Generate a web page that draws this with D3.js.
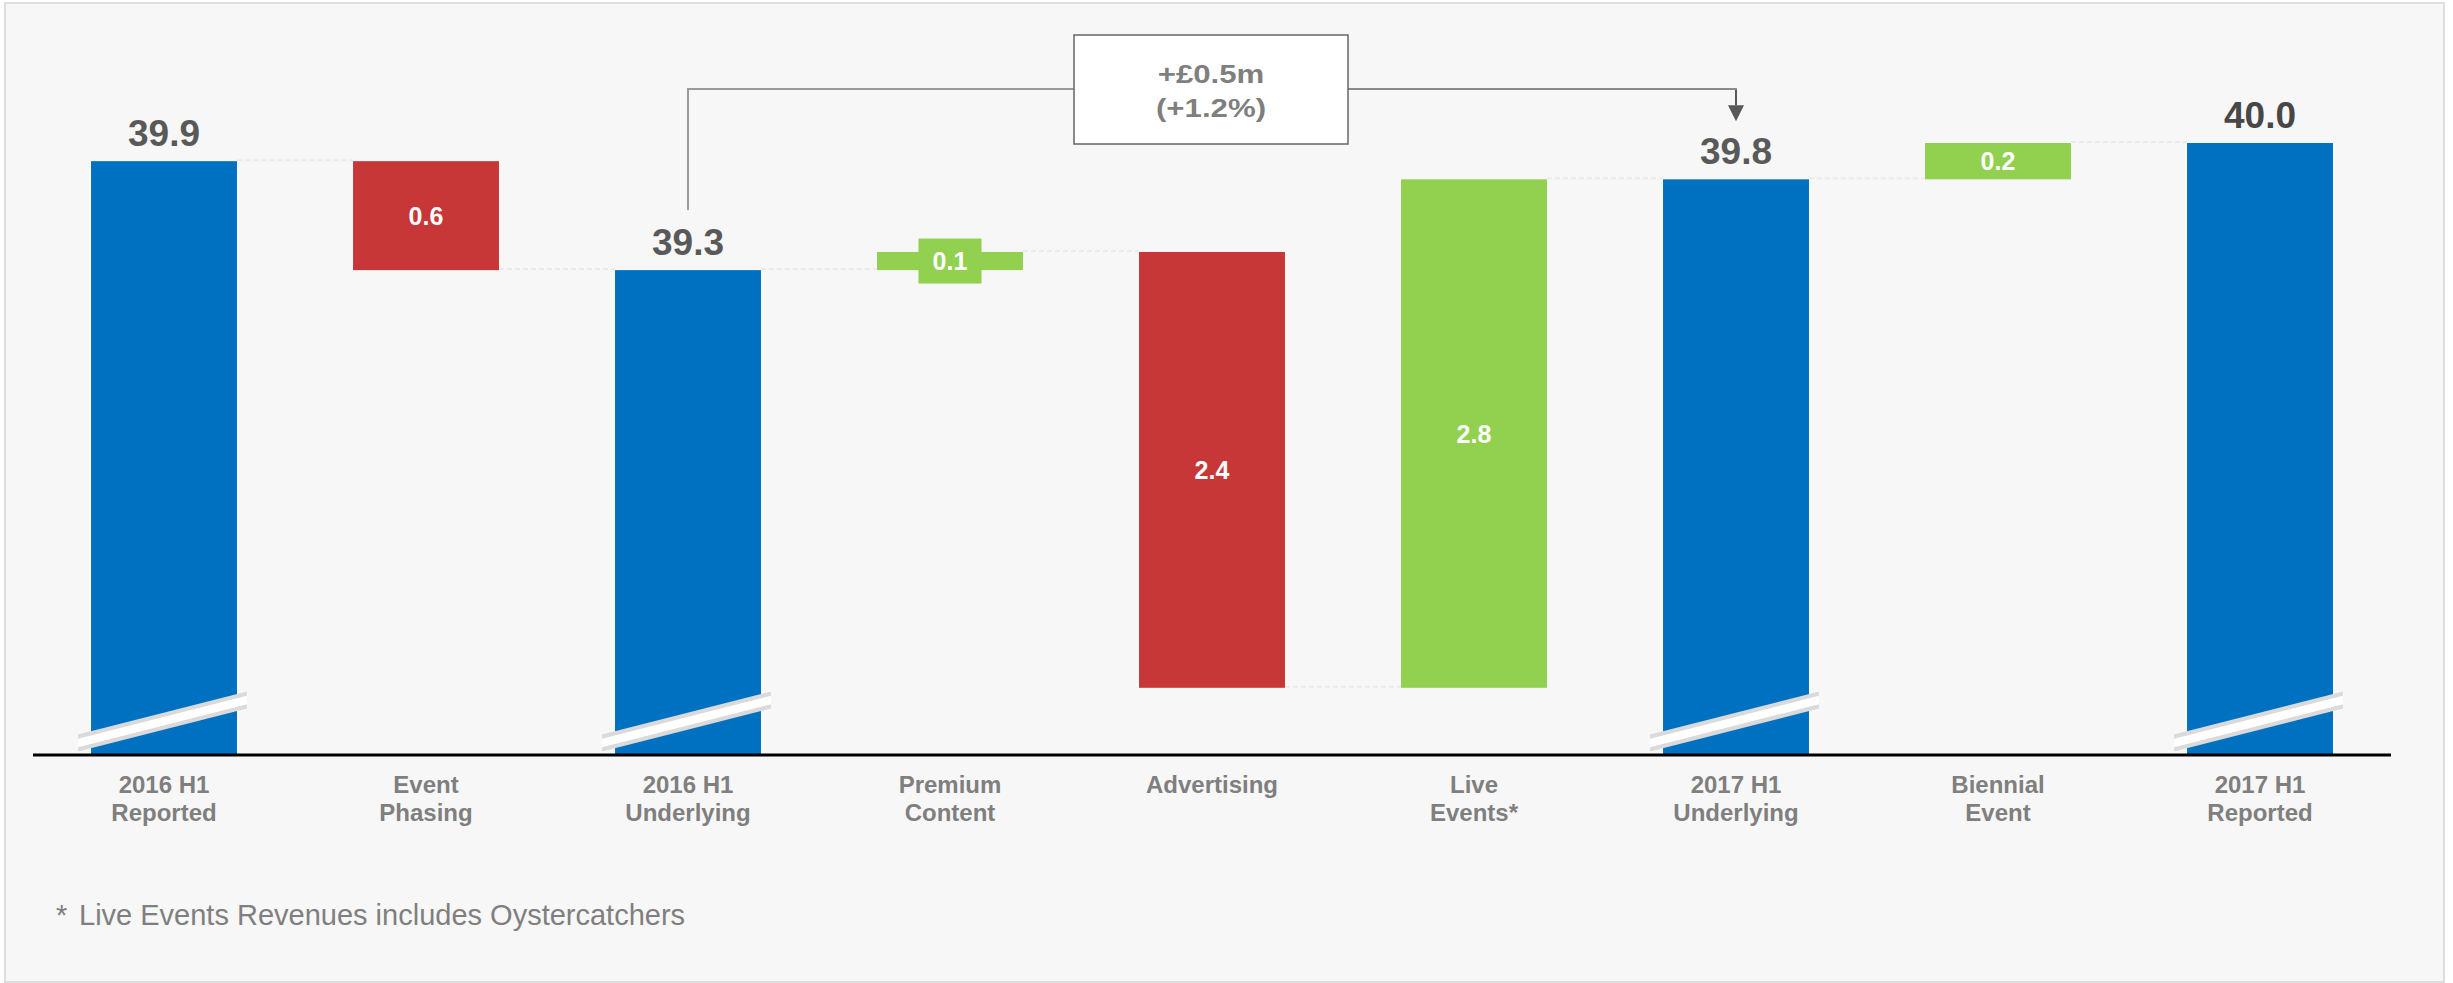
<!DOCTYPE html>
<html>
<head>
<meta charset="utf-8">
<script src="https://cdn.jsdelivr.net/npm/d3@7"></script>
<style>
  html, body { margin: 0; padding: 0; background: #ffffff; }
  svg { display: block; }
  text { font-family: "Liberation Sans", Arial, Helvetica, sans-serif; }
</style>
</head>
<body>
<svg id="chart" width="2453" height="983"></svg>
<script>
// Revenue bridge, £m
const categories = [
  "2016 H1\nReported", "Event\nPhasing", "2016 H1\nUnderlying", "Premium\nContent",
  "Advertising", "Live\nEvents*", "2017 H1\nUnderlying", "Biennial\nEvent", "2017 H1\nReported"
];
const values = [39.9, -0.6, 39.3, 0.1, -2.4, 2.8, 39.8, 0.2, 40.0];
const kinds  = ["total", "delta", "total", "delta", "delta", "delta", "total", "delta", "total"];
const changeLabel = ["+£0.5m", "(+1.2%)"];
const footnote = "Live Events Revenues includes Oystercatchers";

const colors = { total: "#0070c0", up: "#92d050", down: "#c73737" };

const svg = d3.select("#chart");

// Panel background
svg.append("rect")
  .attr("x", 5).attr("y", 3).attr("width", 2439).attr("height", 979)
  .attr("fill", "#f7f7f7").attr("stroke", "#dedede").attr("stroke-width", 2);

const baseY = 755;
const x = d3.scaleBand().domain(categories).range([33, 2391])
  .paddingInner(0.443).paddingOuter(0.2215);
// Axis is broken: totals start from a truncated floor
const y = d3.scaleLinear().domain([36.63, 40.0]).range([baseY, 143]);

// Build waterfall segments
let running = 0;
const bars = categories.map((c, i) => {
  const v = values[i];
  let lo, hi, end;
  if (kinds[i] === "total") {
    running = v; lo = y.domain()[0]; hi = v; end = v;
  } else {
    const start = running;
    running = +(running + v).toFixed(4);
    lo = Math.min(start, running); hi = Math.max(start, running); end = running;
  }
  return { cat: c, v, kind: kinds[i], lo, hi, end };
});

// Dashed connectors between consecutive bars
const conn = svg.append("g");
for (let i = 0; i < bars.length - 1; i++) {
  const yy = y(bars[i].end) - 1;
  conn.append("line")
    .attr("x1", x(bars[i].cat) + x.bandwidth()).attr("x2", x(bars[i + 1].cat))
    .attr("y1", yy).attr("y2", yy)
    .attr("stroke", "#ebebeb").attr("stroke-width", 2).attr("stroke-dasharray", "5,3");
}

// Bars
svg.append("g").selectAll("rect").data(bars).join("rect")
  .attr("x", d => x(d.cat))
  .attr("width", x.bandwidth())
  .attr("y", d => y(d.hi))
  .attr("height", d => y(d.lo) - y(d.hi))
  .attr("fill", d => d.kind === "total" ? colors.total : (d.v >= 0 ? colors.up : colors.down));

// Axis-break marks on total bars
const brk = svg.append("g");
bars.filter(d => d.kind === "total").forEach(d => {
  const x0 = x(d.cat) - 13, x1 = x(d.cat) + x.bandwidth() + 10;
  const yl = baseY - 12, yr = baseY - 55;
  const band = h => [[x0, yl - h], [x1, yr - h], [x1, yr + h], [x0, yl + h]];
  brk.append("polygon").attr("points", band(8.5).join(" ")).attr("fill", "#dadada");
  brk.append("polygon").attr("points", band(4.2).join(" ")).attr("fill", "#ffffff");
});

// Baseline axis
svg.append("line")
  .attr("x1", 33).attr("x2", 2391).attr("y1", baseY).attr("y2", baseY)
  .attr("stroke", "#000").attr("stroke-width", 3);

// Category labels
const catG = svg.append("g");
categories.forEach(c => {
  const t = catG.append("text")
    .attr("x", x(c) + x.bandwidth() / 2).attr("y", 793)
    .attr("text-anchor", "middle").attr("font-size", 24).attr("font-weight", "bold")
    .attr("fill", "#7f7f7f");
  c.split("\n").forEach((line, k) => {
    t.append("tspan").attr("x", x(c) + x.bandwidth() / 2).attr("dy", k === 0 ? 0 : 28).text(line);
  });
});

// Value labels
bars.forEach(d => {
  const cx = x(d.cat) + x.bandwidth() / 2;
  if (d.kind === "total") {
    svg.append("text")
      .attr("x", cx).attr("y", y(d.hi) - 15)
      .attr("text-anchor", "middle").attr("font-size", 37).attr("font-weight", "bold")
      .attr("fill", d.v >= 40 ? "#474747" : "#595959")
      .text(d.v.toFixed(1));
  } else {
    const cy = (y(d.lo) + y(d.hi)) / 2;
    const fill = d.v >= 0 ? colors.up : colors.down;
    if (y(d.lo) - y(d.hi) < 30) {
      svg.append("rect")
        .attr("x", cx - 31.5).attr("y", cy - 22.5).attr("width", 63).attr("height", 45)
        .attr("fill", fill);
    }
    svg.append("text")
      .attr("x", cx).attr("y", cy + 9)
      .attr("text-anchor", "middle").attr("font-size", 25).attr("font-weight", "bold")
      .attr("fill", "#ffffff")
      .text(Math.abs(d.v).toFixed(1));
  }
});

// Underlying change annotation: 2016 H1 Underlying -> 2017 H1 Underlying
const from = bars[2], to = bars[6];
const fx = x(from.cat) + x.bandwidth() / 2, tx = x(to.cat) + x.bandwidth() / 2;
const lineY = 89;
const boxX = 1074, boxW = 274, boxY = 35, boxH = 109;
const ann = svg.append("g");
ann.append("path")
  .attr("d", `M${fx},${y(from.hi) - 60} V${lineY} H${boxX}`)
  .attr("fill", "none").attr("stroke", "#9a9a9a").attr("stroke-width", 2);
ann.append("path")
  .attr("d", `M${boxX + boxW},${lineY} H${tx} V${y(to.hi) - 74}`)
  .attr("fill", "none").attr("stroke", "#8a8a8a").attr("stroke-width", 2);
ann.append("path")
  .attr("d", `M${tx - 8},${y(to.hi) - 74} L${tx + 8},${y(to.hi) - 74} L${tx},${y(to.hi) - 58} Z`)
  .attr("fill", "#595959");
ann.append("line")
  .attr("x1", tx).attr("x2", tx).attr("y1", lineY + 1).attr("y2", y(to.hi) - 74)
  .attr("stroke", "#595959").attr("stroke-width", 2);
ann.append("rect")
  .attr("x", boxX).attr("y", boxY).attr("width", boxW).attr("height", boxH)
  .attr("fill", "#ffffff").attr("stroke", "#666666").attr("stroke-width", 1.5);
const bcx = boxX + boxW / 2;
changeLabel.forEach((s, k) => {
  ann.append("text")
    .attr("transform", `translate(${bcx},${83 + k * 34}) scale(1.2,1)`)
    .attr("text-anchor", "middle").attr("font-size", 26).attr("font-weight", "bold")
    .attr("fill", "#7f7f7f").text(s);
});

// Footnote
const fn = svg.append("g").attr("fill", "#7f7f7f");
fn.append("text").attr("x", 56).attr("y", 925).attr("font-size", 29).text("*");
fn.append("text").attr("x", 79).attr("y", 925).attr("font-size", 29).text(footnote);
</script>
</body>
</html>
